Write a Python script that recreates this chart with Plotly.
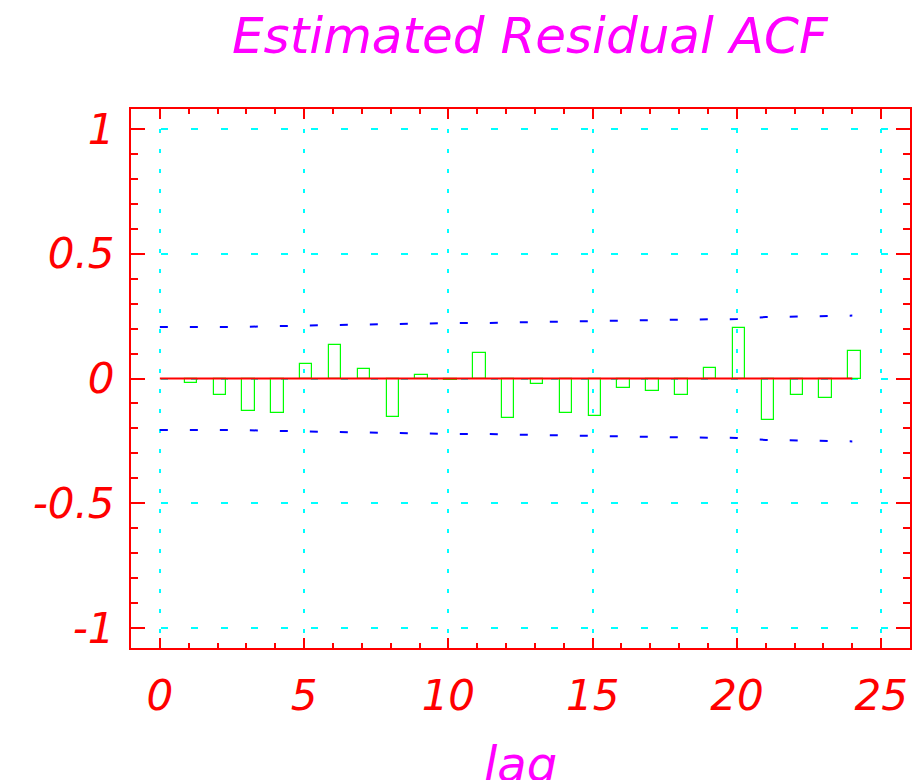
import plotly.graph_objects as go

# Data
band_lags = list(range(0, 25))
band_upper = [0.206, 0.206, 0.206, 0.207, 0.210, 0.212, 0.214, 0.217, 0.219, 0.221,
              0.222, 0.222, 0.224, 0.227, 0.228, 0.231, 0.234, 0.235, 0.236, 0.237,
              0.238, 0.246, 0.249, 0.251, 0.252]
band_lower = [-v for v in band_upper]

acf_lags = list(range(1, 25))
acf_values = [-0.020, -0.068, -0.130, -0.138, 0.060, 0.135, 0.040, -0.156, 0.016, -0.005,
              0.103, -0.160, -0.024, -0.138, -0.152, -0.039, -0.051, -0.068, 0.044, 0.203,
              -0.166, -0.068, -0.080, 0.112]
zero_line = [0.0] * len(band_lags)

x_ticks = [0, 5, 10, 15, 20, 25]
y_ticks = [-1, -0.5, 0, 0.5, 1]
y_tick_labels = ["-1", "-0.5", "0", "0.5", "1"]

title_text = "Estimated Residual ACF"
x_title = "lag"

RED = "#ff0000"
FONT = "DejaVu Sans"

fig = go.Figure()

fig.add_trace(go.Bar(
    x=acf_lags, y=acf_values, width=0.43, offset=-0.14,
    marker=dict(color="rgba(0,0,0,0)", line=dict(color="#00ff00", width=1.2)),
    showlegend=False, hoverinfo="skip",
))
fig.add_trace(go.Scatter(
    x=band_lags, y=band_upper, mode="lines",
    line=dict(color="#0000ff", width=2, dash="8px,22px"), showlegend=False,
))
fig.add_trace(go.Scatter(
    x=band_lags, y=band_lower, mode="lines",
    line=dict(color="#0000ff", width=2, dash="8px,22px"), showlegend=False,
))
fig.add_trace(go.Scatter(
    x=band_lags, y=zero_line, mode="lines",
    line=dict(color=RED, width=2), showlegend=False,
))

tickfont = dict(family=FONT, size=42, color=RED, style="italic")

fig.update_xaxes(
    range=[-1, 26], tickmode="array", tickvals=x_ticks, ticktext=[str(t) for t in x_ticks],
    ticks="inside", ticklen=10, tickwidth=1.5, tickcolor=RED,
    minor=dict(dtick=1, ticks="inside", ticklen=5, tickwidth=1.5, tickcolor=RED, showgrid=False),
    showline=True, linecolor=RED, linewidth=2, mirror="ticks",
    showgrid=True, gridcolor="#00ffff", gridwidth=2, griddash="4px,16px",
    zeroline=False, tickfont=tickfont, ticklabelstandoff=10, automargin=False,
)
fig.update_yaxes(
    range=[-1.08, 1.08], tickmode="array", tickvals=y_ticks, ticktext=y_tick_labels,
    ticks="inside", ticklen=14, tickwidth=1.5, tickcolor=RED,
    minor=dict(dtick=0.1, ticks="inside", ticklen=7, tickwidth=1.5, tickcolor=RED, showgrid=False),
    showline=True, linecolor=RED, linewidth=2, mirror="ticks",
    showgrid=True, gridcolor="#00ffff", gridwidth=1.5, griddash="7px,23px",
    zeroline=False, tickfont=tickfont, ticklabelstandoff=6, automargin=False,
)

# the page adds an 8px body margin, so the margins are shifted to compensate
fig.update_layout(
    width=922, height=780,
    margin=dict(l=123, r=20, t=101, b=140, autoexpand=False),
    paper_bgcolor="white", plot_bgcolor="white",
    bargap=0,
    annotations=[
        dict(text=title_text, xref="paper", yref="paper", x=0.513, y=1 + (109 - 36) / 539,
             xanchor="center", yanchor="middle", showarrow=False,
             font=dict(family=FONT, size=50, color="#ff00ff", style="italic")),
        dict(text=x_title, xref="paper", yref="paper", x=0.5, y=-(764 - 648) / 539,
             xanchor="center", yanchor="middle", showarrow=False,
             font=dict(family=FONT, size=48, color="#ff00ff", style="italic")),
    ],
)

fig.write_html("out.html")
